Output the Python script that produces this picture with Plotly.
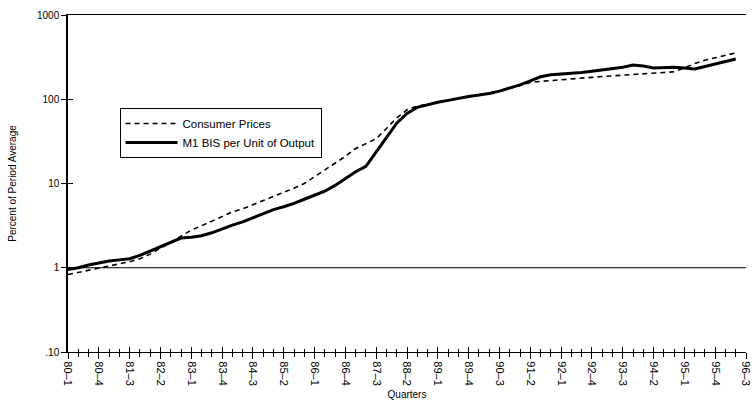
import plotly.graph_objects as go

# Quarter index 0 = 80-1
quarters = list(range(66))

m1_bis = [0.95, 1.0, 1.08, 1.14, 1.2, 1.24, 1.28, 1.4, 1.58, 1.75,
          2.0, 2.25, 2.3, 2.4, 2.6, 2.9, 3.2, 3.5, 3.9, 4.4,
          4.9, 5.3, 5.8, 6.5, 7.3, 8.1, 9.5, 11.5, 13.8, 16.0,
          24, 35, 52, 68, 80, 86, 92, 97, 103, 108,
          112, 117, 125, 135, 148, 165, 185, 195, 198, 203,
          208, 215, 222, 229, 240, 255, 248, 235, 238, 240,
          235, 229, 245, 262, 285, 300]

consumer_prices = [0.83, 0.88, 0.93, 0.98, 1.03, 1.1, 1.18, 1.28, 1.45, 1.7,
                   2.0, 2.4, 2.8, 3.15, 3.6, 4.1, 4.6, 5.0, 5.6, 6.3,
                   7.0, 7.8, 8.8, 10, 12, 14.5, 17.5, 21, 26, 30,
                   34, 45, 60, 75, 83, 87, 92, 97, 102, 107,
                   112, 117, 124, 134, 146, 158, 163, 166, 170, 174,
                   178, 182, 186, 189, 193, 197, 200, 203, 207, 212,
                   235, 265, 290, 310, 335, 355]

tick_quarters = list(range(0, 67, 3))
tick_labels = ["80–1", "80–4", "81–3", "82–2", "83–1", "83–4", "84–3", "85–2",
               "86–1", "86–4", "87–3", "88–2", "89–1", "89–4", "90–3", "91–2",
               "92–1", "92–4", "93–3", "94–2", "95–1", "95–4", "96–3"]

y_tickvals = [0.1, 1, 10, 100, 1000]
y_ticktext = [".10", "1", "10", "100", "1000"]
BASELINE = 1

FONT = "Liberation Sans, Arial, sans-serif"

fig = go.Figure()
fig.add_trace(go.Scatter(x=quarters, y=consumer_prices, mode="lines",
                         name="Consumer Prices",
                         line=dict(color="black", width=1.6, dash="5px,4px")))
fig.add_trace(go.Scatter(x=quarters, y=m1_bis, mode="lines",
                         name="M1 BIS per Unit of Output",
                         line=dict(color="black", width=3)))
# invisible trace to carry inside-tick overlay axes
fig.add_trace(go.Scatter(x=[None], y=[None], xaxis="x2", yaxis="y2",
                         showlegend=False, hoverinfo="skip"))

fig.add_shape(type="line", xref="paper", x0=0, x1=1, yref="y", y0=BASELINE, y1=BASELINE,
              line=dict(color="black", width=1))

XR = [0, 66]

fig.update_layout(
    width=752, height=410,
    margin=dict(l=68, r=0, t=15, b=58),
    paper_bgcolor="white", plot_bgcolor="white",
    font=dict(family=FONT, size=10, color="black"),
    showlegend=True,
    legend=dict(x=0.076, y=0.724, xanchor="left", yanchor="top",
                bordercolor="black", borderwidth=1, bgcolor="white",
                font=dict(size=11.5, color="black"), tracegroupgap=0, itemwidth=52),
    xaxis=dict(range=XR, tickmode="array", tickvals=tick_quarters,
               ticktext=tick_labels, tickangle=90, ticks="outside", ticklen=6,
               tickcolor="black", tickwidth=1.3, ticklabeloverflow="allow",
               showline=True, linecolor="black", linewidth=1.3, mirror=True,
               showgrid=False, zeroline=False,
               minor=dict(tickmode="linear", tick0=0, dtick=1, ticks="outside",
                          ticklen=4, tickcolor="black", showgrid=False),
               tickfont=dict(size=11, color="black"),
               title=dict(text="Quarters", font=dict(size=10, color="black"), standoff=6)),
    yaxis=dict(type="log", range=[-1, 3], tickmode="array", tickvals=y_tickvals,
               ticktext=y_ticktext, ticks="outside", ticklen=5, tickcolor="black",
               showline=True, linecolor="black", linewidth=1.5, mirror=False,
               showgrid=False, zeroline=False, tickfont=dict(size=10, color="black"),
               title=dict(text="Percent of Period Average", font=dict(size=10, color="black"),
                          standoff=19)),
    xaxis2=dict(overlaying="x", range=XR, tickmode="array",
                tickvals=tick_quarters, ticks="inside", ticklen=5, tickcolor="black",
                tickwidth=1.3, showticklabels=False, showgrid=False, zeroline=False,
                showline=False,
                minor=dict(tickmode="linear", tick0=0, dtick=1, ticks="inside",
                           ticklen=3, tickcolor="black", showgrid=False),
                anchor="y2", side="bottom"),
    yaxis2=dict(overlaying="y", type="log", range=[-1, 3], tickmode="array",
                tickvals=y_tickvals, ticks="inside", ticklen=5, tickcolor="black",
                showticklabels=False, showgrid=False, zeroline=False, showline=False,
                anchor="x2", side="left"),
)

fig.write_html("out.html", config={"displayModeBar": False})
